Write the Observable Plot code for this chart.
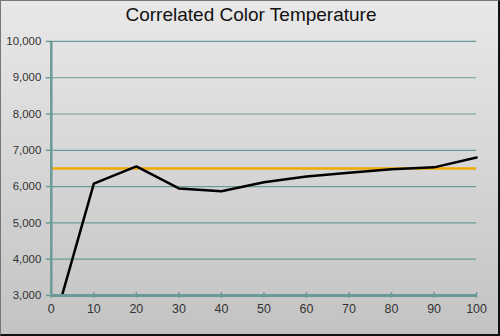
<!DOCTYPE html>
<html>
<head>
<meta charset="utf-8">
<script src="https://cdn.jsdelivr.net/npm/d3@7"></script>
<script src="https://cdn.jsdelivr.net/npm/@observablehq/plot@0.6"></script>
<style>
  html, body { margin: 0; padding: 0; }
  #wrap {
    position: relative; width: 500px; height: 336px; box-sizing: border-box;
    background: linear-gradient(to bottom, #e8e8e8 0%, #d6d6d6 50%, #c3c3c3 100%);
    border-top: 1px solid #777; border-left: 1px solid #777;
    border-right: 2px solid #111; border-bottom: 2px solid #111;
    font-family: "Liberation Sans", Arial, sans-serif; overflow: hidden;
  }
  #title { position: absolute; left: 0; top: 3px; width: 500px; text-align: center;
    font-size: 19px; color: #111; }
  #chart { position: absolute; left: -1px; top: 29px; }
</style>
</head>
<body>
<div id="wrap">
  <div id="title">Correlated Color Temperature</div>
  <div id="chart"></div>
</div>
<script>
const xValues = [2.6, 10, 20, 30, 40, 50, 60, 70, 80, 90, 100];
const cctValues = [3030, 6080, 6555, 5950, 5870, 6120, 6280, 6380, 6480, 6530, 6800];
const target = 6500;
const yTicks = [3000, 4000, 5000, 6000, 7000, 8000, 9000, 10000];
const xTicks = [0, 10, 20, 30, 40, 50, 60, 70, 80, 90, 100];

const data = xValues.map((x, i) => ({x, y: cctValues[i]}));
const teal = "#6b9b98";

const plot = Plot.plot({
  width: 500,
  height: 307,
  marginLeft: 51,
  marginRight: 22,
  marginTop: 11,
  marginBottom: 41,
  style: {background: "transparent", fontFamily: "Liberation Sans, Arial, sans-serif", fontSize: "11.5px", color: "#333"},
  x: {type: "linear", domain: [0, 100], ticks: xTicks, label: null},
  y: {type: "linear", domain: [3000, 10000], ticks: yTicks, label: null},
  marks: [
    Plot.ruleY(yTicks.slice(1), {stroke: teal, strokeWidth: 1.2}),
    Plot.ruleY([target], {stroke: "#f2a900", strokeWidth: 2.5}),
    Plot.line(data, {x: "x", y: "y", stroke: "#000", strokeWidth: 2.5, strokeLinejoin: "round"}),
    Plot.ruleX([0], {stroke: teal, strokeWidth: 2.5}),
    Plot.ruleY([3000], {stroke: teal, strokeWidth: 3}),
    Plot.ruleX(xTicks, {x: d => d, y1: 2920, y2: 3080, stroke: teal, strokeWidth: 1.5}),
    Plot.axisY({ticks: yTicks, tickFormat: d3.format(","), tickSize: 5, stroke: teal, strokeWidth: 1.5, tickPadding: 5, fill: "#333", label: null}),
    Plot.axisX({ticks: xTicks, tickSize: 0, tickPadding: 9, fill: "#333", fontSize: 12.5, label: null})
  ]
});
document.getElementById("chart").appendChild(plot);
</script>
</body>
</html>
